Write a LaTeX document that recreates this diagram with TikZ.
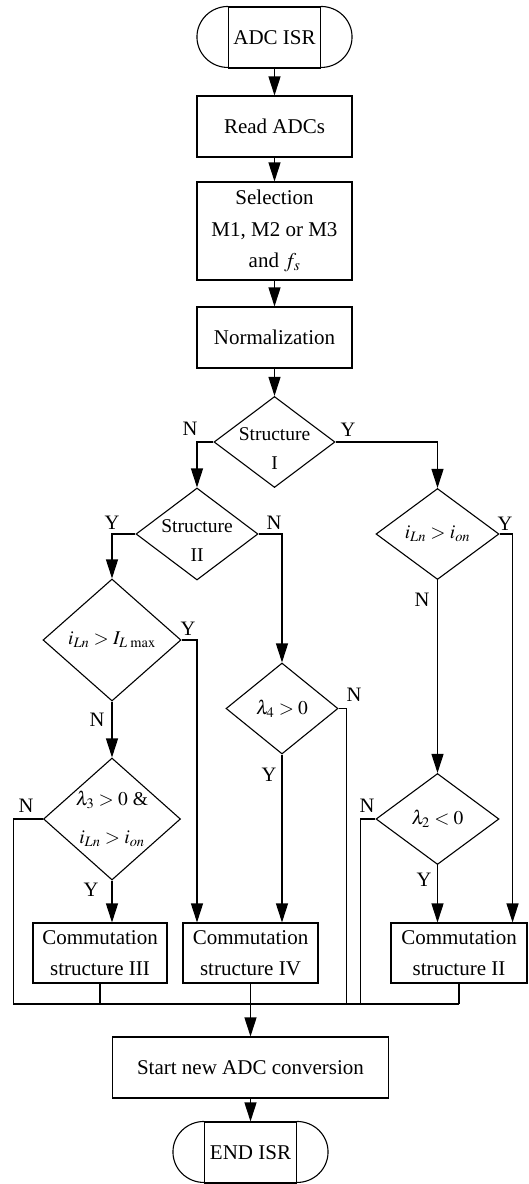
\documentclass[tikz,border=0pt]{standalone}
\usepackage{mathptmx}
\usepackage{fontspec}
\setmainfont{Liberation Serif}
\usetikzlibrary{arrows.meta, shapes.geometric}
\tikzset{
    box/.style={
        rectangle, draw=black, line width=1.1pt, inner sep=0pt,
        align=center, font=\fontsize{21}{31.5}\selectfont,
        minimum width=155pt, minimum height=61pt,
    },
    term/.style={box, minimum width=92pt},
    commbox/.style={box, minimum width=135pt, minimum height=60pt},
    decision/.style={
        diamond, draw=black, line width=1.1pt, inner sep=-20pt,
        align=center, font=\fontsize{19.5}{29}\selectfont,
    },
    flow/.style={
        -{Triangle[length=19pt, width=12pt]}, line width=1.1pt
    },
    link/.style={line width=1.1pt},
    yn/.style={font=\fontsize{20.5}{24}\selectfont, inner sep=0pt},
}

\begin{document}
\begin{tikzpicture}[x=1pt, y=-1pt]
\useasboundingbox (0,0) rectangle (528,1184);

% ============================================================
%  Main column
% ============================================================
\node[term] (start) at (274.5,37.5) {ADC ISR};
\node[box] (read) at (274.5,126.5) {Read ADCs};
\node[box, minimum height=98pt] (sel) at (274.5,231) {%
    Selection\\ M1, M2 or M3\\ and $f_s$};
\node[box] (norm) at (274.5,337.5) {Normalization};

% rounded ends of the terminals
\foreach \t in {start} {
    \draw[link] (\t.north west) arc[start angle=90, end angle=270,
        x radius=31pt, y radius=30.5pt];
    \draw[link] (\t.north east) arc[start angle=90, end angle=-90,
        x radius=31pt, y radius=30.5pt];
}

\draw[flow] (start) -- (read);
\draw[flow] (read)  -- (sel);
\draw[flow] (sel)   -- (norm);

% ============================================================
%  Decisions
% ============================================================
\node[decision, minimum width=121pt, minimum height=91pt] (d1)
    at (274.5,442) {\rule{0pt}{25pt}Structure\\ I};
\node[decision, minimum width=122pt, minimum height=92pt] (d2)
    at (197,534) {\rule{0pt}{25pt}Structure\\ II};
\node[decision, minimum width=123pt, minimum height=91pt] (d3)
    at (437.5,534) {$i_{Ln} > i_{on}$};
\node[decision, minimum width=138pt, minimum height=122pt] (d4)
    at (112,640) {$i_{Ln} > I_{L\,\max}$};
\node[decision, minimum width=112pt, minimum height=91pt] (d5)
    at (282,708.5) {$\lambda_4 > 0$};
\node[decision, minimum width=137pt, minimum height=122pt,
      font=\fontsize{19.5}{38}\selectfont] (d6)
    at (112,819) {$\lambda_3 > 0$ \&\\ $i_{Ln} > i_{on}$};
\node[decision, minimum width=123pt, minimum height=91pt] (d7)
    at (437.5,819) {$\lambda_2 < 0$};

% ============================================================
%  Commutation boxes and end
% ============================================================
\node[commbox, minimum width=134pt] (c3) at (100,953)
    {Commutation\\ structure III};
\node[commbox] (c4) at (250.5,953) {Commutation\\ structure IV};
\node[commbox, minimum width=136pt] (c2) at (459,953)
    {Commutation\\ structure II};
\node[box, minimum width=276pt] (conv) at (250.5,1067.5)
    {Start new ADC conversion};
\node[term] (stop) at (250.5,1152.5) {END ISR};

\foreach \t in {stop} {
    \draw[link] (\t.north west) arc[start angle=90, end angle=270,
        x radius=31pt, y radius=30.5pt];
    \draw[link] (\t.north east) arc[start angle=90, end angle=-90,
        x radius=31pt, y radius=30.5pt];
}

\coordinate (bus) at (0,1004);

% ============================================================
%  Connectors
% ============================================================
\draw[flow] (norm) -- (d1);
\draw[flow] (d1.west) -| (d2.north);
\draw[flow] (d1.east) -| (d3.north);
\draw[flow] (d2.west) -| (d4.north);
\draw[flow] (d2.east) -| (d5.north);
\draw[flow] (d3.east) -- ++(13,0) coordinate (d3y) -- (d3y |- c2.north);
\draw[flow] (d3.south) -- (d7.north);
\draw[flow] (d4.east) -| (d2.south |- c4.north);
\draw[flow] (d4.south) -- (d6.north);
\draw[link] (d5.east) -- ++(8,0) coordinate (d5n) -- (d5n |- bus);
\draw[flow] (d5.south) -- (d5.south |- c4.north);
\draw[link] (d6.west) -- ++(-29.5,0) coordinate (d6n) -- (d6n |- bus);
\draw[flow] (d6.south) -- (d6.south |- c3.north);
\draw[link] (d7.west) -- ++(-15,0) coordinate (d7n) -- (d7n |- bus);
\draw[flow] (d7.south) -- (d7.south |- c2.north);

% collecting bus below the commutation boxes
\draw[link] (d6n |- bus) -- (c2.south |- bus);
\draw[link] (c3.south) -- (c3.south |- bus);
\draw[link] (c2.south) -- (c2.south |- bus);
\draw[flow] (c4) -- (conv);
\draw[flow] (conv) -- (stop);

% ============================================================
%  Y / N labels
% ============================================================
\node[yn] (n1) at (190,429) {N};
\node[yn] (y1) at (348,430) {Y};
\node[yn] (y2) at (112,523) {Y};
\node[yn] (n2) at (274,523) {N};
\node[yn] (y3) at (505,524) {Y};
\node[yn] (n3) at (422,600) {N};
\node[yn] (y4) at (188,629) {Y};
\node[yn] (n4) at (97,720) {N};
\node[yn] (n5) at (354,695) {N};
\node[yn] (y5) at (269,775) {Y};
\node[yn] (n6) at (26,806) {N};
\node[yn] (y6) at (91,890) {Y};
\node[yn] (n7) at (367,806) {N};
\node[yn] (y7) at (424,880) {Y};

\end{tikzpicture}
\end{document}
